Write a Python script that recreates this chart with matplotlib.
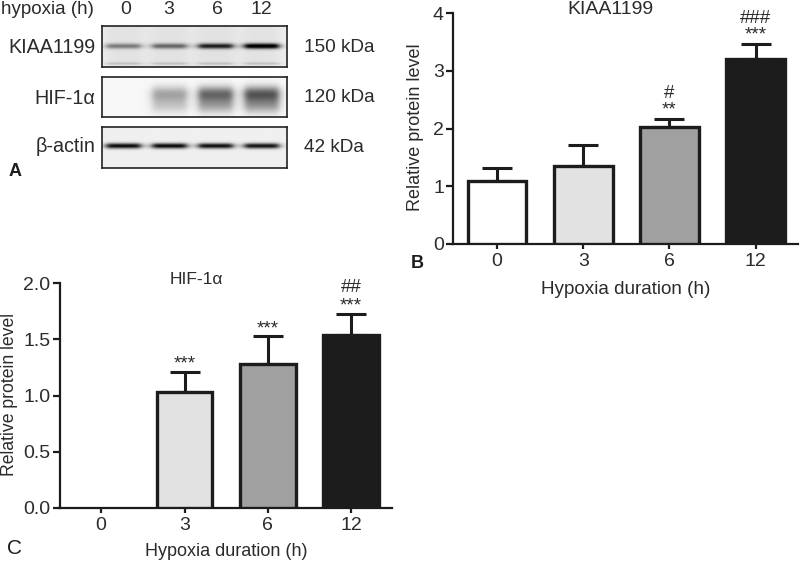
import numpy as np
import matplotlib
matplotlib.use("Agg")
import matplotlib.pyplot as plt

plt.rcParams['font.family'] = ['Liberation Sans', 'DejaVu Sans']
TXT = '#2b2b2b'

categories = ['0', '3', '6', '12']
kiaa_values = [1.09, 1.35, 2.02, 3.21]
kiaa_errors = [0.22, 0.37, 0.15, 0.26]
hif_values = [0.0, 1.03, 1.28, 1.54]
hif_errors = [0.0, 0.18, 0.25, 0.19]
bar_colors = ['#ffffff', '#e2e2e2', '#a0a0a0', '#1c1c1c']
kiaa_marks = ['', '', '#\n**', '###\n***']
hif_marks = ['', '***', '***', '##\n***']

blot_labels = ['KIAA1199', 'HIF-1α', 'β-actin']
blot_sizes = ['150 kDa', '120 kDa', '42 kDa']
lane_centres = [0.115, 0.365, 0.615, 0.865]
kiaa_band = [0.42, 0.50, 0.80, 1.0]
hif_band = [0.0, 0.30, 0.52, 0.58]
actin_band = [0.92, 0.92, 0.90, 0.88]

W, H = 800, 562
fig = plt.figure(figsize=(W / 100, H / 100), dpi=100, facecolor='white')


def axes_px(x0, y0, x1, y1):
    return fig.add_axes([x0 / W, 1 - y1 / H, (x1 - x0) / W, (y1 - y0) / H])


def draw_bars(ax, values, errors, marks, yticks, fmt, width, title, title_x, title_y, ylim,
              mark_space, mark_off, title_size, ylabel_size, xlabel_size, ylabel_x, xlabel_y):
    x = np.arange(len(categories))
    ax.bar(x, values, width=width, color=bar_colors, edgecolor='#1c1c1c',
           linewidth=[2.4 if v > 0 else 0 for v in values], zorder=3)
    for xi, v, e in zip(x, values, errors):
        if e > 0:
            ax.errorbar(xi, v, yerr=[[0], [e]], color='#1c1c1c', elinewidth=2.2,
                        capsize=11, capthick=2.2, zorder=2)
    for xi, v, e, m in zip(x, values, errors, marks):
        if m:
            ax.annotate(m, (xi, v + e), xytext=(0, mark_off), textcoords='offset points',
                        ha='center', va='bottom', fontsize=13.5, color=TXT,
                        linespacing=mark_space)
    ax.set_xticks(x, categories)
    ax.set_yticks(yticks, [fmt.format(t) for t in yticks])
    ax.set_ylim(*ylim)
    for s in ('top', 'right'):
        ax.spines[s].set_visible(False)
    for s in ('left', 'bottom'):
        ax.spines[s].set_linewidth(1.6)
        ax.spines[s].set_color('#1c1c1c')
    ax.tick_params(axis='y', width=1.6, length=5, labelsize=14, colors=TXT, pad=1.5, color='#1c1c1c')
    ax.tick_params(axis='x', width=1.6, length=3.5, labelsize=14, colors=TXT, pad=3, color='#1c1c1c')
    ax.patch.set_alpha(0)
    ax.set_xlabel('Hypoxia duration (h)', fontsize=xlabel_size, color=TXT)
    ax.set_ylabel('Relative protein level', fontsize=ylabel_size, color=TXT)
    trans = fig.transFigure
    pos = ax.get_position()
    ax.yaxis.set_label_coords(ylabel_x / W, pos.y0 + pos.height * 0.505, transform=trans)
    ax.xaxis.set_label_coords(pos.x0 + pos.width * 0.5, 1 - xlabel_y / H, transform=trans)
    ax.xaxis.label.set_verticalalignment('center')
    ax.yaxis.label.set_verticalalignment('center')
    fig.text(title_x / W, 1 - title_y / H, title, fontsize=title_size, color=TXT, ha='center', va='center')


axb = axes_px(453, 13.3, 798, 244)
axb.set_xlim(-0.51, 3.49)
draw_bars(axb, kiaa_values, kiaa_errors, kiaa_marks, [0, 1, 2, 3, 4], '{:d}', 0.68,
          'KIAA1199', 610, 9, (0, 4), 0.9, 0.5, 14, 13, 13.6, 416, 289)

axc = axes_px(59.5, 283.3, 392, 507.7)
axc.set_xlim(-0.50, 3.49)
draw_bars(axc, hif_values, hif_errors, hif_marks, [0.0, 0.5, 1.0, 1.5, 2.0], '{:.1f}', 0.67,
          'HIF-1α', 196, 279, (0, 2.0), 1.15, -0.7, 12.5, 12.7, 13, 9.5, 552)


def blot(ax, levels, base, centre, thick, spread, smear=0.0, faint=0.0, haze=0.0):
    yy, xx = np.mgrid[0:1:80j, 0:1:240j]
    img = np.full(xx.shape, base)
    dark = np.zeros_like(img)
    for c, lv in zip(lane_centres, levels):
        lane = 1 / (1 + ((xx - c) / 0.095) ** 8)
        wide = 1 / (1 + ((xx - c) / 0.11) ** 4)
        dark += lv * lane * np.exp(-((yy - centre) / thick) ** 2)
        dark += smear * lv * lane * np.exp(-((yy - centre - spread) / (thick * 1.1)) ** 2)
        dark += faint * lane * np.exp(-((yy - 0.92) / 0.03) ** 2)
        dark += haze * wide
    ax.imshow(np.clip(img - dark, 0, 1), cmap='gray', vmin=0, vmax=1,
              extent=(0, 1, 0, 1), aspect='auto', interpolation='bilinear')
    ax.set_xticks([])
    ax.set_yticks([])
    for s in ax.spines.values():
        s.set_linewidth(1.2)
        s.set_color('#222222')


blot_boxes = [(102, 26, 287, 67), (102, 77, 287, 117), (102, 127, 287, 168)]
blot(axes_px(*blot_boxes[0]), kiaa_band, 0.95, 0.49, 0.065, 0, faint=0.14, haze=0.06)
blot(axes_px(*blot_boxes[1]), hif_band, 0.97, 0.42, 0.19, 0.28, smear=0.6)
blot(axes_px(*blot_boxes[2]), actin_band, 0.94, 0.46, 0.065, 0)

text_rows = [47.5, 98, 147]
for y, lab, size in zip(text_rows, blot_labels, blot_sizes):
    fig.text(95.5 / W, 1 - y / H, lab, fontsize=14.2, color=TXT, ha='right', va='center')
    fig.text(304 / W, 1 - y / H, size, fontsize=13.7, color=TXT, ha='left', va='center')

fig.text(93.5 / W, 1 - 9.5 / H, 'hypoxia (h)', fontsize=13.5, color=TXT, ha='right', va='center')
for x, lab in zip([126, 169, 217, 261], categories):
    fig.text(x / W, 1 - 9 / H, lab, fontsize=14, color=TXT, ha='center', va='center')

for lab, x, y, wt, sz in [('A', 15, 172, 'bold', 13), ('B', 417, 263, 'bold', 13), ('C', 14, 548, 'normal', 15)]:
    fig.text(x / W, 1 - y / H, lab, fontsize=sz, fontweight=wt, color='#1c1c1c', ha='center', va='center')

fig.savefig('out.png', dpi=100)
